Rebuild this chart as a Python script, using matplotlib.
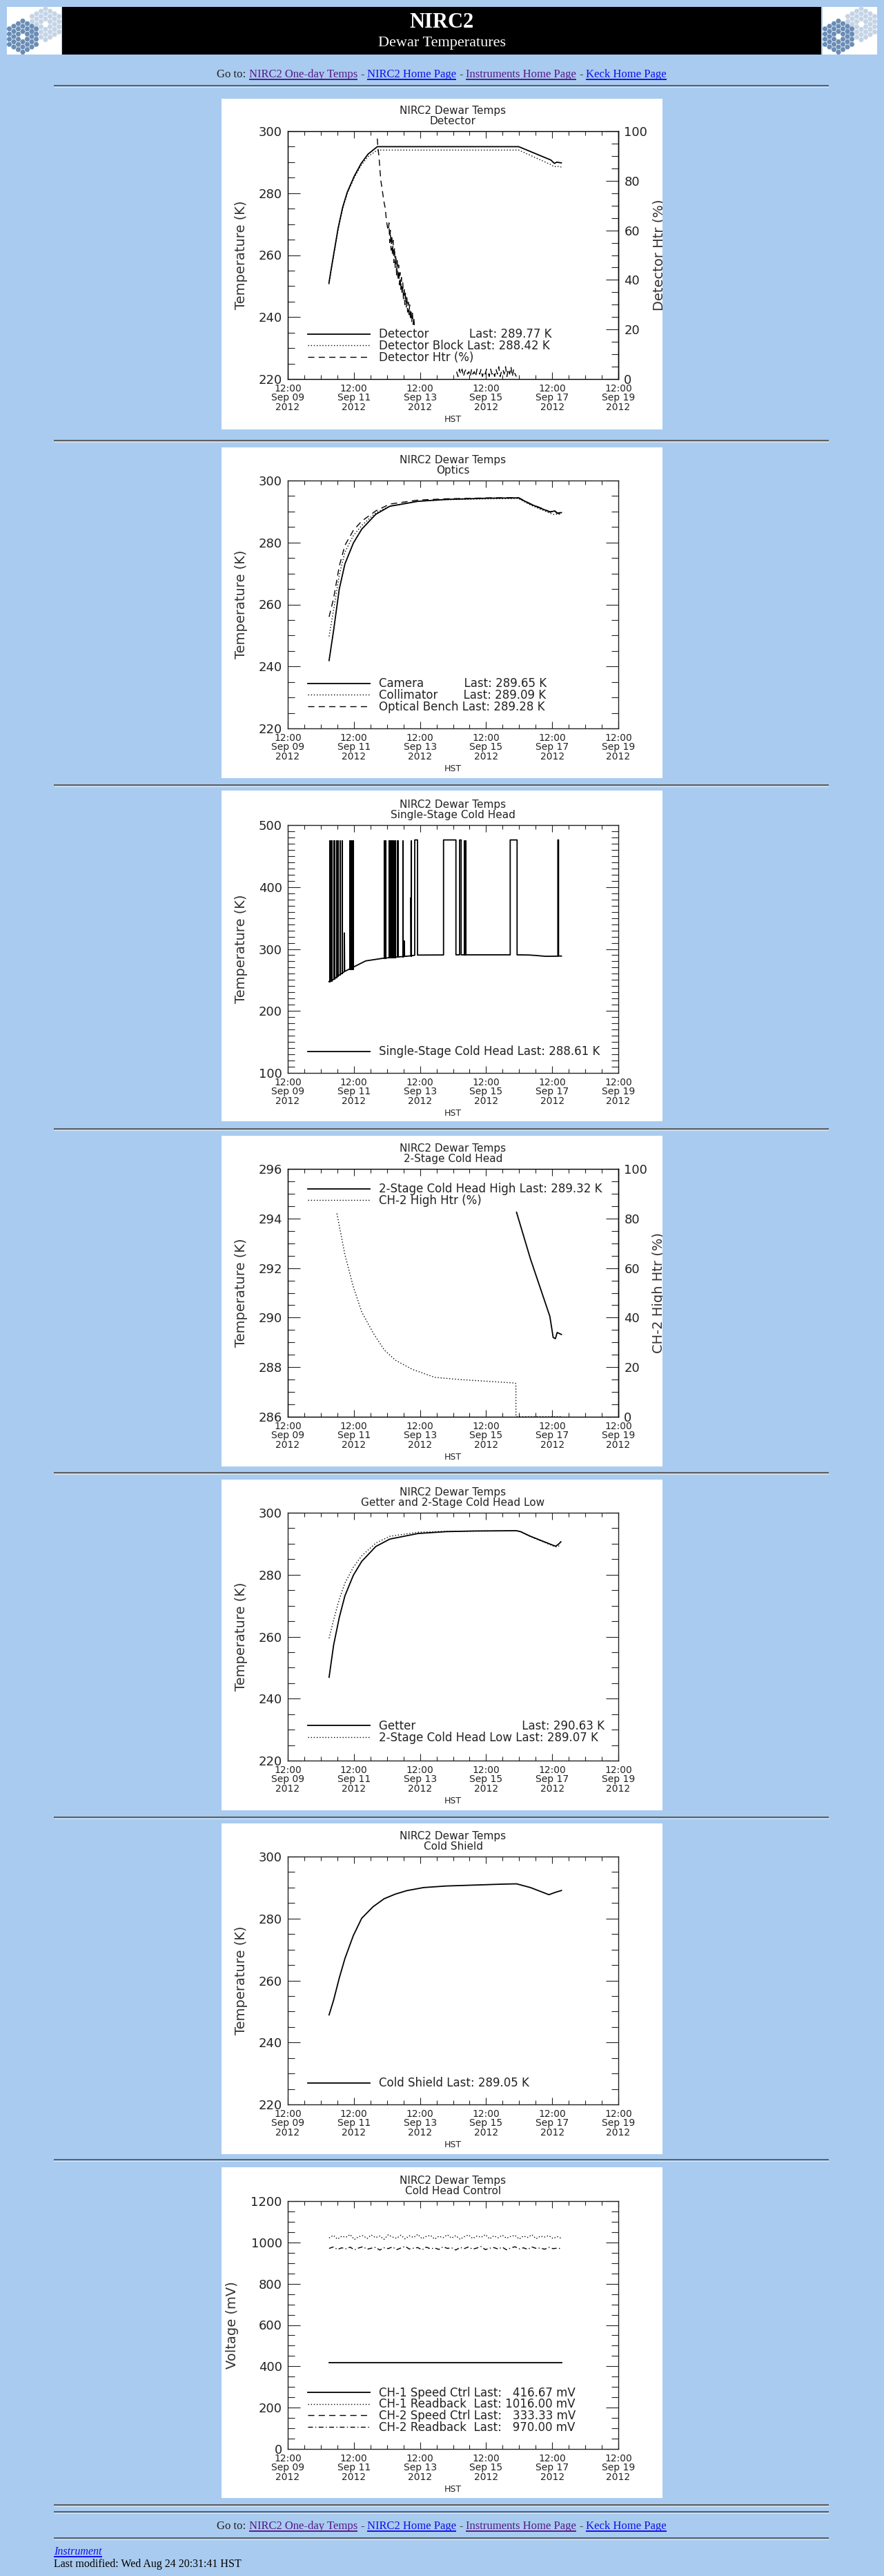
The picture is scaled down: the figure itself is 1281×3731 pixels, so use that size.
import numpy as np
import matplotlib
matplotlib.use("Agg")
import matplotlib.pyplot as plt
import matplotlib.dates as mdates
from matplotlib.patches import Rectangle, RegularPolygon
from matplotlib.ticker import MultipleLocator
from matplotlib.transforms import Bbox, TransformedBbox

W, H = 1281, 3731
BG = "#A9CBEF"
INK = "#222222"
LINK = "#1010EE"
VISITED = "#551A8B"
SERIF = "Liberation Serif"

T0 = np.datetime64("2012-09-09T12:00:00")

# ---- data (hours after Sep 09 12:00 HST) ----
# Detector panel
DET_H = [29.9, 31.5, 33.2, 36.6, 39.9, 43.2, 48.3, 53.3, 58.3, 65.0, 167.7, 191.0, 193.6, 195.3, 198.6]
DET_T = [251.0, 255.4, 259.9, 268.8, 275.5, 280.3, 285.5, 289.6, 292.6, 295.0, 295.0, 290.7, 289.6, 290.0, 289.77]
BLK_T = [250.6, 255.0, 259.4, 268.3, 275.0, 279.9, 285.0, 289.0, 291.8, 293.9, 293.9, 289.2, 288.5, 288.7, 288.42]
HTR_DROP_H = [65.0, 65.5, 66.2, 67.0, 67.6, 68.4, 69.2, 70.0, 70.8, 71.6, 72.5, 73.0]
HTR_DROP = [97, 93, 90, 84, 80, 77, 74, 71, 69, 64, 61, 60]
HTR_NOISY = [63, 55, 60, 52, 58, 50, 56, 47, 53, 45, 50, 42, 48, 40, 46, 38, 43, 36, 41,
             34, 39, 32, 37, 30, 35, 29, 33, 27, 31, 26, 30, 24, 28, 23, 27, 22, 25, 21]
HTR_LOW = [3, 1, 4, 2, 4, 1, 3, 4, 2, 3, 1, 4, 2, 3, 1, 4, 3, 2, 4, 1, 3, 2, 4, 3,
           1, 4, 2, 3, 1, 4, 2, 5, 1, 3, 4, 2, 5, 1, 4, 2, 5, 1, 4, 2, 1]

# Optics panel
OPT_H = [30.0, 33.3, 37.4, 41.5, 47.6, 53.7, 63.9, 74.1, 94.6, 115.0, 145.6, 167.5, 176.2, 190.6, 193.6, 195.6, 198.7]
CAMERA = [241.9, 251.7, 265.0, 273.1, 279.8, 284.3, 289.1, 291.7, 293.3, 293.9, 294.3, 294.4, 292.4, 289.8, 290.2, 289.5, 289.65]
COLLIM = [249.7, 258.3, 269.5, 276.9, 282.2, 285.5, 289.6, 291.7, 293.3, 293.8, 294.1, 294.2, 292.1, 289.4, 289.0, 289.2, 289.09]
BENCH = [256.0, 262.0, 272.4, 279.1, 283.9, 286.9, 290.2, 292.4, 293.7, 294.1, 294.4, 294.5, 292.5, 289.9, 290.6, 289.4, 289.28]

# Single-stage cold head: trace with isolated spikes / pulses, plus dense spike blocks
SS_H = [29.9, 33.0, 36.6, 41.1, 41.1, 41.3, 46.6, 56.6, 70.0, 84.6, 84.6, 84.8, 89.4, 89.4, 89.6,
        92.2, 92.2, 94.2, 94.2, 113.1, 113.1, 122.1, 122.1, 124.8, 124.8, 125.9, 125.9,
        161.5, 161.5, 166.5, 166.5, 175.0, 180.0, 187.0, 196.1, 196.1, 196.6, 196.6, 198.7]
SS_T = [247.4, 250.5, 256.7, 263.5, 326.0, 263.8, 269.7, 280.8, 285.3, 288.0, 313.0, 288.0, 289.0, 383.0, 289.0,
        290.0, 476.0, 476.0, 290.2, 290.4, 476.0, 476.0, 290.6, 290.6, 476.0, 476.0, 290.6,
        290.6, 476.0, 476.0, 290.6, 290.3, 289.6, 288.2, 288.4, 476.0, 476.0, 288.6, 288.61]
SS_TOP = 476.0
SS_BLK_START = [29.9, 31.3, 33.1, 35.0, 35.9, 37.5, 39.0, 44.6, 69.6, 70.8, 73.0, 77.4, 79.4, 83.3, 89.1, 127.6, 128.7]
SS_BLK_END = [30.7, 32.0, 34.0, 35.5, 36.4, 38.3, 39.6, 47.4, 70.2, 71.3, 76.6, 78.1, 80.2, 83.9, 89.7, 128.2, 129.3]
SS_BLK_BASE = [247.5, 248.5, 251.0, 253.5, 255.5, 258.5, 260.5, 267.5, 285.2, 285.4, 286.0, 286.6, 287.0, 287.7, 288.8, 290.6, 290.6]

# 2-stage cold head
HIGH_H = [166.1, 176.2, 190.3, 192.7, 194.3, 195.6, 198.7]
HIGH_T = [294.25, 292.37, 290.05, 289.2, 289.15, 289.4, 289.32]
CH2HTR_H = [35.7, 41.4, 47.5, 53.7, 61.8, 70.0, 78.2, 90.5, 106.8, 125.2, 145.7, 165.1, 165.6, 165.7, 198.7]
CH2HTR = [82.0, 65.6, 52.6, 42.3, 34.0, 27.0, 22.8, 19.1, 15.9, 15.0, 14.3, 13.6, 13.4, 0.0, 0.0]

# Getter and 2-stage low
GET_H = [30.0, 33.3, 37.4, 41.5, 47.6, 53.7, 63.9, 74.1, 94.6, 115.0, 135.5, 166.0, 169.0, 176.2, 192.6, 194.6, 196.7, 198.3]
GETTER = [246.9, 257.3, 266.2, 273.2, 279.8, 284.3, 289.1, 291.5, 293.3, 293.9, 294.1, 294.2, 293.9, 292.4, 289.5, 289.2, 289.9, 290.63]
LOW = [259.5, 265.4, 272.1, 277.3, 282.4, 286.1, 290.2, 292.4, 293.7, 294.0, 294.1, 294.2, 293.9, 292.3, 289.3, 289.0, 289.3, 289.07]

# Cold shield
SH_H = [30.0, 33.3, 37.4, 41.5, 47.6, 53.7, 61.9, 70.0, 78.2, 86.4, 98.6, 115.0, 135.5, 156.0, 166.1, 176.2, 189.6, 194.6, 198.7]
SHIELD = [248.9, 253.7, 260.8, 267.1, 274.5, 280.1, 283.8, 286.4, 287.9, 289.0, 290.0, 290.5, 290.8, 291.1, 291.2, 290.0, 287.7, 288.5, 289.05]

# Cold head control (mV)
CH1_SPEED_H = [30.0, 198.7]
CH1_SPEED = [416.67, 416.67]
CH1_RB = [1022, 1034, 1016, 1030, 1025, 1038, 1014, 1028, 1033, 1019, 1036, 1023, 1031, 1015, 1037, 1026, 1020, 1035, 1017,
          1032, 1024, 1039, 1018, 1029, 1034, 1016, 1030, 1023, 1037, 1021, 1033, 1015, 1028, 1036, 1019, 1031, 1025, 1038,
          1017, 1032, 1022, 1035, 1020, 1029, 1034, 1016, 1031, 1024, 1037, 1018, 1030, 1026, 1033, 1019, 1028, 1020]
CH2_RB = [971, 978, 966, 974, 969, 977, 964, 973, 979, 967, 972, 976, 963, 974, 970, 978, 965, 973, 981, 968, 972, 975,
          964, 977, 969, 973, 966, 979, 971, 974, 963, 976, 970, 978, 967, 973, 980, 965, 972, 975, 968, 977, 964, 973,
          979, 969, 974, 966, 978, 971, 973, 967, 976, 970, 972, 970]

# ---- page layout (pixels) ----
PANEL_TOPS = [143, 648, 1145, 1645, 2143, 2641, 3139]
AXES_TOPS = [190, 696, 1195, 1693, 2191, 2689, 3188]
HR_Y = [124, 638, 1137, 1635, 2133, 2632, 3128, 3628, 3638, 3676]


def hrs(h):
    return T0 + np.round(np.asarray(h, dtype=float) * 3600).astype("timedelta64[s]")


def fig_rect(x, y, w, h):
    return [x / W, 1 - (y + h) / H, w / W, h / H]


plt.rcParams["font.family"] = "DejaVu Sans"
fig = plt.figure(figsize=(W / 100, H / 100), dpi=100, facecolor=BG)
page = fig.add_axes([0, 0, 1, 1])
page.set_xlim(0, W)
page.set_ylim(H, 0)
page.axis("off")

# header banner + logos
page.add_patch(Rectangle((90, 10), 1100, 69, facecolor="black", edgecolor="none"))
page.text(640, 32, "NIRC2", ha="center", va="center", color="white", fontsize=22,
          family=SERIF, fontweight="bold")
page.text(640, 63, "Dewar Temperatures", ha="center", va="center", color="white",
          fontsize=16, family=SERIF)


def draw_logo(x0, y0):
    page.add_patch(Rectangle((x0, y0), 79, 69, facecolor="white", edgecolor="none"))
    for cx, cy, col in [(x0 + 56, y0 + 25, "#C4D4E6"), (x0 + 23, y0 + 43, "#6A8DB6")]:
        for q in range(-3, 4):
            for r in range(-3, 4):
                d = max(abs(q), abs(r), abs(q + r))
                if d == 0 or d > 3:
                    continue
                page.add_patch(RegularPolygon((cx + 6.5 * q, cy + 7.5 * (r + q / 2)), 6,
                                              radius=3.9, orientation=np.pi / 6,
                                              facecolor=col, edgecolor="none"))


draw_logo(10, 10)
draw_logo(1192, 10)

for y in HR_Y:
    page.plot([78, 1201], [y, y], color="#555555", lw=1.3, solid_capstyle="butt")
    page.plot([78, 1201], [y + 1.6, y + 1.6], color="#DDE6F0", lw=0.7, solid_capstyle="butt")

LINKS = [("Go to:", INK, False), ("NIRC2 One-day Temps", VISITED, True), ("-", INK, False),
         ("NIRC2 Home Page", LINK, True), ("-", INK, False),
         ("Instruments Home Page", VISITED, True), ("-", INK, False), ("Keck Home Page", LINK, True)]


def link_row(y):
    texts = [page.text(0, y, s, color=c, fontsize=12, family=SERIF, va="baseline") for s, c, _ in LINKS]
    fig.canvas.draw()
    rend = fig.canvas.get_renderer()
    widths = [t.get_window_extent(rend).width for t in texts]
    gap = 4.2
    x = 640 - (sum(widths) + gap * (len(widths) - 1)) / 2
    for t, w, (s, c, und) in zip(texts, widths, LINKS):
        t.set_x(x)
        if und:
            page.plot([x, x + w], [y + 2.6, y + 2.6], color=c, lw=1.4, solid_capstyle="butt")
        x += w + gap


link_row(112)
link_row(3663)
t_ins = page.text(78, 3700, "Instrument", color=LINK, fontsize=11.5, family=SERIF,
                  style="italic", va="baseline")
fig.canvas.draw()
w_ins = t_ins.get_window_extent(fig.canvas.get_renderer()).width
page.plot([78, 78 + w_ins], [3702.6, 3702.6], color=LINK, lw=1.4, solid_capstyle="butt")
page.text(78, 3718, "Last modified: Wed Aug 24 20:31:41 HST", color="black", fontsize=11.5,
          family=SERIF, va="baseline")

for top in PANEL_TOPS:
    page.add_patch(Rectangle((321, top), 639, 479, facecolor="white", edgecolor="none"))

MAJOR_T = T0 + np.arange(0, 11, 2).astype("timedelta64[D]")
MINOR_T = T0 + np.arange(0, 241, 12).astype("timedelta64[h]")


def style_y(ax, ymaj, ymin):
    ax.yaxis.set_major_locator(MultipleLocator(ymaj))
    ax.yaxis.set_minor_locator(MultipleLocator(ymin))
    ax.yaxis.set_major_formatter(matplotlib.ticker.FormatStrFormatter("%g"))
    ax.tick_params(axis="y", which="major", length=13, width=0.8, labelsize=13, pad=6, colors=INK)
    ax.tick_params(axis="y", which="minor", length=7, width=0.8, colors=INK)


def make_axes(idx, ylim, ymaj, ymin, ylabel, subtitle, twin=False, label_x=-0.122):
    ax = fig.add_axes(fig_rect(417, AXES_TOPS[idx], 479, 359))
    ax.set_facecolor("none")
    ax.set_xlim(T0, T0 + np.timedelta64(10, "D"))
    ax.set_ylim(*ylim)
    ax.set_xticks(MAJOR_T)
    ax.set_xticks(MINOR_T, minor=True)
    ax.xaxis.set_major_formatter(mdates.DateFormatter("%H:%M\n%b %d\n%Y"))
    ax.tick_params(axis="both", which="both", direction="in", top=True, right=not twin)
    ax.tick_params(axis="x", which="major", length=7, width=0.8, labelsize=10, pad=5, colors=INK)
    ax.tick_params(axis="x", which="minor", length=4, width=0.8, colors=INK)
    for lbl in ax.get_xticklabels():
        lbl.set_linespacing(0.95)
    style_y(ax, ymaj, ymin)
    for sp in ax.spines.values():
        sp.set_linewidth(1.0)
        sp.set_color(INK)
    ax.set_xlabel("HST", fontsize=9, color=INK, labelpad=3)
    ax.set_ylabel(ylabel, fontsize=14, color="#333333")
    ax.yaxis.set_label_coords(label_x, 0.5)
    ax.set_title("NIRC2 Dewar Temps\n" + subtitle, fontsize=11, color=INK, linespacing=1.0, pad=7)
    return ax


def make_twin(ax, idx, ylabel):
    tw = ax.twinx()
    tw.set_ylim(0, 100)
    tw.tick_params(axis="y", which="both", direction="in")
    style_y(tw, 20, 5)
    tw.spines["right"].set_linewidth(1.0)
    tw.set_ylabel(ylabel, fontsize=14, color="#333333", rotation=90)
    tw.yaxis.set_label_coords(1.103, 0.5)
    clip = TransformedBbox(Bbox([[321, PANEL_TOPS[idx]], [960, PANEL_TOPS[idx] + 479]]), page.transData)
    tw.yaxis.label.set_clip_box(clip)
    tw.yaxis.label.set_clip_on(True)
    return tw


LEG = dict(frameon=False, fontsize=12, handlelength=5.4, handletextpad=0.78, labelspacing=-0.08,
           borderpad=0, borderaxespad=0, labelcolor=INK)
DOT = (0, (1, 2))
DASH = (0, (6.5, 4.5))
DASHDOT = (0, (5, 2.5, 1, 2.5))
FS = "\u2007"

# 1. Detector
ax = make_axes(0, (220, 300), 20, 5, "Temperature (K)", "Detector", twin=True)
tw = make_twin(ax, 0, "Detector Htr (%)")
l1, = ax.plot(hrs(DET_H), DET_T, color="black", lw=1.3)
l2, = ax.plot(hrs(DET_H), BLK_T, color="black", lw=1.0, ls=DOT)
htr_h = np.concatenate([HTR_DROP_H, 73.5 + 0.5 * np.arange(len(HTR_NOISY)), [100.0],
                        np.linspace(122.6, 166.0, len(HTR_LOW))])
htr_v = np.concatenate([HTR_DROP, HTR_NOISY, [np.nan], HTR_LOW])
l3, = tw.plot(hrs(htr_h), htr_v, color="black", lw=1.0, ls=DASH)
tw.legend([l1, l2, l3], ["Detector" + FS * 5 + " Last: 289.77 K", "Detector Block Last: 288.42 K",
                         "Detector Htr (%)"], loc="lower left", bbox_to_anchor=(0.0605, 0.062), **LEG)

# 2. Optics
ax = make_axes(1, (220, 300), 20, 5, "Temperature (K)", "Optics")
l1, = ax.plot(hrs(OPT_H), CAMERA, color="black", lw=1.3)
l2, = ax.plot(hrs(OPT_H), COLLIM, color="black", lw=1.0, ls=DOT)
l3, = ax.plot(hrs(OPT_H), BENCH, color="black", lw=1.0, ls=DASH)
ax.legend([l1, l2, l3], ["Camera" + FS * 5 + " Last: 289.65 K", "Collimator" + FS * 3 + " Last: 289.09 K",
                         "Optical Bench Last: 289.28 K"], loc="lower left", bbox_to_anchor=(0.0605, 0.062), **LEG)

# 3. Single-stage cold head
ax = make_axes(2, (100, 500), 100, 10, "Temperature (K)", "Single-Stage Cold Head")
blk_w = (np.round((np.array(SS_BLK_END) - np.array(SS_BLK_START)) * 3600)).astype("timedelta64[s]")
ax.bar(hrs(SS_BLK_START), SS_TOP - np.array(SS_BLK_BASE), width=blk_w, bottom=SS_BLK_BASE,
       align="edge", color="black", edgecolor="black", linewidth=0.8)
l1, = ax.plot(hrs(SS_H), SS_T, color="black", lw=1.3)
ax.legend([l1], ["Single-Stage Cold Head Last: 288.61 K"], loc="lower left",
          bbox_to_anchor=(0.0605, 0.060), **LEG)

# 4. 2-stage cold head
ax = make_axes(3, (286, 296), 2, 0.5, "Temperature (K)", "2-Stage Cold Head", twin=True)
tw = make_twin(ax, 3, "CH-2 High Htr (%)")
l1, = ax.plot(hrs(HIGH_H), HIGH_T, color="black", lw=1.3)
l2, = tw.plot(hrs(CH2HTR_H), CH2HTR, color="black", lw=1.0, ls=DOT)
tw.legend([l1, l2], ["2-Stage Cold Head High Last: 289.32 K", "CH-2 High Htr (%)"], loc="upper left",
          bbox_to_anchor=(0.0605, 0.943), **LEG)

# 5. Getter and 2-stage low
ax = make_axes(4, (220, 300), 20, 5, "Temperature (K)", "Getter and 2-Stage Cold Head Low")
l1, = ax.plot(hrs(GET_H), GETTER, color="black", lw=1.3)
l2, = ax.plot(hrs(GET_H), LOW, color="black", lw=1.0, ls=DOT)
ax.legend([l1, l2], ["Getter" + FS * 14 + " Last: 290.63 K", "2-Stage Cold Head Low Last: 289.07 K"],
          loc="lower left", bbox_to_anchor=(0.0605, 0.067), **LEG)

# 6. Cold shield
ax = make_axes(5, (220, 300), 20, 5, "Temperature (K)", "Cold Shield")
l1, = ax.plot(hrs(SH_H), SHIELD, color="black", lw=1.3)
ax.legend([l1], ["Cold Shield Last: 289.05 K"], loc="lower left", bbox_to_anchor=(0.0605, 0.060), **LEG)

# 7. Cold head control
ax = make_axes(6, (0, 1200), 200, 50, "Voltage (mV)", "Cold Head Control", label_x=-0.149)
l1, = ax.plot(hrs(CH1_SPEED_H), CH1_SPEED, color="black", lw=1.3)
l2, = ax.plot(hrs(np.linspace(30.0, 198.7, len(CH1_RB))), CH1_RB, color="black", lw=1.0, ls=DOT)
l3, = ax.plot([], [], color="black", lw=1.0, ls=DASH)
l4, = ax.plot(hrs(np.linspace(30.0, 198.7, len(CH2_RB))), CH2_RB, color="black", lw=1.0, ls=DASHDOT)
ax.legend([l1, l2, l3, l4], ["CH-1 Speed Ctrl Last: " + FS + "416.67 mV", "CH-1 Readback  Last: 1016.00 mV",
                             "CH-2 Speed Ctrl Last: " + FS + "333.33 mV", "CH-2 Readback  Last: " + FS + "970.00 mV"],
          loc="lower left", bbox_to_anchor=(0.0605, 0.062), **LEG)

fig.savefig("out.png", dpi=100, facecolor=BG)
